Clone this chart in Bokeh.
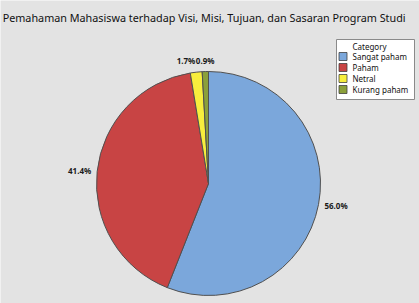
import math
from bokeh.plotting import figure
from bokeh.models import ColumnDataSource, Range1d
from bokeh.core.properties import value
from bokeh.embed import file_html
from bokeh.resources import INLINE

title_text = "Pemahaman Mahasiswa terhadap Visi, Misi, Tujuan,  dan Sasaran Program Studi"
legend_title = "Category"
categories = ["Sangat paham", "Paham", "Netral", "Kurang paham"]
percents = [56.0, 41.4, 1.7, 0.9]
colors = ["#7ba7db", "#c84444", "#f7ee3d", "#8ba03a"]

W, H = 419, 303
FONT = "Noto Sans"
cx, cy, r = 208, H - 183, 112
gap = 6
char_w = 4.8

total = sum(percents)
starts, ends, lx, ly, labels, aligns, baselines = [], [], [], [], [], [], []
acc = 0.0
for v in percents:
    a0 = math.pi / 2 - 2 * math.pi * acc / total
    a1 = math.pi / 2 - 2 * math.pi * (acc + v) / total
    starts.append(a0)
    ends.append(a1)
    mid = (a0 + a1) / 2
    c, s = math.cos(mid), math.sin(mid)
    lx.append(cx + (r + gap) * c)
    ly.append(cy + (r + gap) * s)
    labels.append(f"{v:.1f}%")
    if c > 0.5:
        aligns.append("left"); baselines.append("middle")
    elif c < -0.5:
        aligns.append("right"); baselines.append("middle")
    else:
        aligns.append("center"); baselines.append("bottom" if s > 0 else "top")
    acc += v

# simple collision avoidance for centred (top) labels: push leftwards
centred = sorted([i for i in range(len(labels)) if aligns[i] == "center"], key=lambda i: -lx[i])
for a, b in zip(centred, centred[1:]):
    left_a = lx[a] - char_w * len(labels[a]) / 2
    right_b = lx[b] + char_w * len(labels[b]) / 2
    if right_b > left_a:
        lx[b] -= right_b - left_a

src = ColumnDataSource(dict(cat=categories, start=starts, end=ends, color=colors,
                            lx=lx, ly=ly, label=labels, align=aligns, base=baselines))

p = figure(width=W, height=H, x_range=Range1d(0, W), y_range=Range1d(0, H),
           output_backend="svg", toolbar_location=None, min_border=0)
p.axis.visible = False
p.grid.visible = False
p.outline_line_color = None
p.background_fill_color = "#e3e3e3"
p.border_fill_color = "#e3e3e3"

p.wedge(x=cx, y=cy, radius=r, start_angle="start", end_angle="end", direction="clock",
        fill_color="color", line_color="#505050", line_width=1, source=src)

p.text(x="lx", y="ly", text="label", source=src, text_align="align", text_baseline="base",
       text_font=value(FONT), text_font_size="6pt", text_font_style="bold",
       text_color="#1a1a1a")

p.text(x=[205], y=[H - 17], text=[title_text], text_align="center", text_baseline="middle",
       text_font=value(FONT), text_font_size="8.1pt", text_color="#111111")

# legend (manual)
lg_left, lg_top, lg_w, lg_h = 336, 39, 78, 60
p.rect(x=[lg_left + lg_w / 2], y=[H - (lg_top + lg_h / 2)], width=lg_w, height=lg_h,
       fill_color="white", line_color="#8a8a8a", line_width=1)
text_x = lg_left + 16
p.text(x=[text_x], y=[H - (lg_top + 7)], text=[legend_title], text_align="left",
       text_baseline="middle", text_font=value(FONT), text_font_size="6pt", text_color="#111111")
row_y = [H - (lg_top + 17 + 11 * i) for i in range(len(categories))]
lsrc = ColumnDataSource(dict(y=row_y, cat=categories, color=colors))
p.rect(x=lg_left + 6.5, y="y", width=8, height=8, fill_color="color", line_color="#404040",
       line_width=0.8, source=lsrc)
p.text(x=text_x, y="y", text="cat", source=lsrc, text_align="left", text_baseline="middle",
       text_font=value(FONT), text_font_size="6pt", text_color="#111111")

open("out.html", "w").write(file_html(p, INLINE))
